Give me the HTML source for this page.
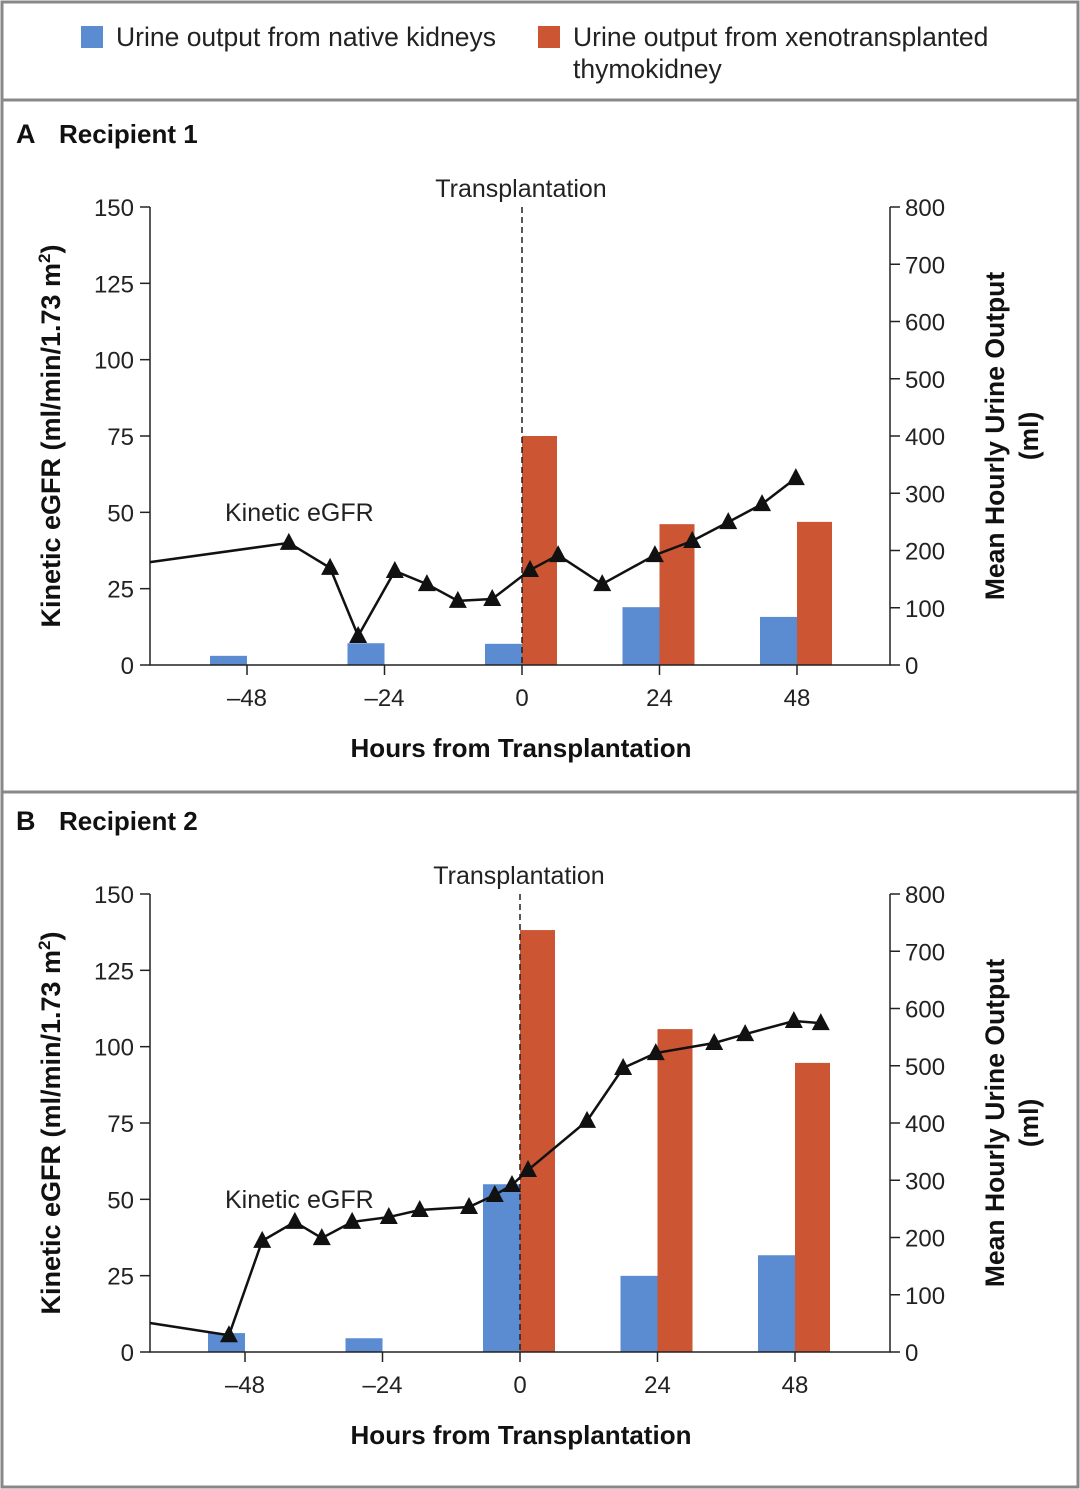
<!DOCTYPE html>
<html><head><meta charset="utf-8"><style>
body{margin:0;background:#fff}
svg{display:block;font-family:"Liberation Sans",sans-serif}
</style></head><body>
<svg id="s" width="1080" height="1489" viewBox="0 0 1080 1489">
<rect x="2" y="2" width="1076" height="1485" fill="none" stroke="#888" stroke-width="3"/>
<line x1="2" y1="100" x2="1078" y2="100" stroke="#888" stroke-width="3"/>
<line x1="2" y1="792" x2="1078" y2="792" stroke="#888" stroke-width="3"/>
<g>
<rect x="81" y="26" width="22" height="22" fill="#5b8bd0"/>
<text x="116" y="46" font-size="26.5" fill="#222">Urine output from native kidneys</text>
<rect x="538" y="26" width="22" height="22" fill="#cc5533"/>
<text x="573" y="46" font-size="26.5" fill="#222">Urine output from xenotransplanted<tspan x="573" y="78">thymokidney</tspan></text>
</g>
</svg>
<script>
const hoursA=[-65,-40.7,-33.5,-28.6,-22.2,-16.6,-11.2,-5.2,1.4,6.3,14.0,23.2,29.7,36.0,41.9,47.8];
const egfrA=[33.7,40.0,31.8,9.5,30.8,26.5,21.0,21.6,31.1,36.0,26.5,36.0,40.6,46.8,52.7,61.2];
const hoursB=[-65,-50.8,-45.0,-39.3,-34.6,-29.3,-22.9,-17.5,-8.9,-4.4,-1.4,1.4,11.7,18.0,23.7,33.9,39.3,47.8,52.5];
const egfrB=[9.5,5.5,36.4,42.6,37.3,42.6,44.2,46.5,47.5,51.4,54.7,59.6,75.7,93.0,97.9,101.2,104.1,108.4,107.7];
const barTimes=[-48,-24,0,24,48];
const nativeA=[16,38,37,101,84];
const xenoA=[null,null,400,246,250];
const nativeB=[33,24,293,133,169];
const xenoB=[null,null,737,564,505];
const leftTicks=[0,25,50,75,100,125,150];
const rightTicks=[0,100,200,300,400,500,600,700,800];
const xTicks=[-48,-24,0,24,48];
const NS="http://www.w3.org/2000/svg";
const svg=document.getElementById('s');
function el(tag,attrs,parent,txt){const e=document.createElementNS(NS,tag);for(const k in attrs)e.setAttribute(k,attrs[k]);if(txt!==undefined)e.textContent=txt;(parent||svg).appendChild(e);return e;}
function panel(off,letter,title,hours,egfr,nat,xeno,key,x0){
 const g=el('g',{});
 
 
 const x=h=>x0+h*5.729;
 const yL=v=>665+off-v/150*458;
 const yR=v=>665+off-v/800*458;
 const t1=el('text',{x:16,y:143+off,'font-size':27,'font-weight':'bold',fill:'#111'},g,letter);
 
 
 const t2=el('text',{x:59,y:143+off,'font-size':26,'font-weight':'bold',fill:'#111'},g,title);
 
 
 barTimes.forEach((t,i)=>{
  const hb=el('rect',{x:x(t)-37,y:yR(nat[i]),width:37,height:665+off-yR(nat[i]),fill:'#5b8bd0'},g);
  
  
  if(xeno[i]!=null){
   const rb=el('rect',{x:x(t),y:yR(xeno[i]),width:35,height:665+off-yR(xeno[i]),fill:'#cc5533'},g);
   
   
  }
 });
 const ax=el('path',{d:`M150 ${207+off}V${665+off}H890V${207+off}`,fill:'none',stroke:'#222','stroke-width':1.5},g);
 
 
 leftTicks.forEach(v=>{
  el('line',{x1:140,x2:150,y1:yL(v),y2:yL(v),stroke:'#222','stroke-width':1.5},g);
  const tl=el('text',{x:134,y:yL(v)+9,'font-size':24,'text-anchor':'end',fill:'#222'},g,v);
  
  
 });
 rightTicks.forEach(v=>{
  el('line',{x1:890,x2:900,y1:yR(v),y2:yR(v),stroke:'#222','stroke-width':1.5},g);
  const tr=el('text',{x:905,y:yR(v)+9,'font-size':24,fill:'#222'},g,v);
  
  
 });
 xTicks.forEach(v=>{
  el('line',{x1:x(v),x2:x(v),y1:665+off,y2:675+off,stroke:'#222','stroke-width':1.5},g);
  const tx=el('text',{x:x(v),y:706+off,'font-size':24,'text-anchor':'middle',fill:'#222'},g,v<0?'\u2013'+(-v):v);
  
  
 });
 const xt=el('text',{x:521,y:757+off,'font-size':26,'font-weight':'bold','text-anchor':'middle',fill:'#111'},g,'Hours from Transplantation');
 
 
 const lt=el('text',{transform:`translate(60 ${436+off}) rotate(-90)`,'font-size':27,'font-weight':'bold','text-anchor':'middle',fill:'#111'},g);
 lt.innerHTML='Kinetic eGFR (ml/min/1.73 m<tspan dy="-10" font-size="17">2</tspan><tspan dy="10">)</tspan>';
 
 
 const rt=el('text',{transform:`translate(1004 ${436+off}) rotate(-90)`,'font-size':26.5,'font-weight':'bold','text-anchor':'middle',fill:'#111'},g);
 rt.innerHTML='Mean Hourly Urine Output<tspan x="0" dy="34">(ml)</tspan>';
 
 
 const dl=el('line',{x1:x(0),x2:x(0),y1:207+off,y2:665+off,stroke:'#222','stroke-width':1.5,'stroke-dasharray':'6,4'},g);
 
 
 const tt=el('text',{x:x(0)-1,y:197+off,'font-size':25,'text-anchor':'middle',fill:'#222'},g,'Transplantation');
 
 
 const kl=el('text',{x:225,y:521+off,'font-size':25,fill:'#222'},g,'Kinetic eGFR');
 
 
 const pts=hours.map((h,i)=>Math.max(150,x(h))+','+yL(egfr[i])).join(' ');
 const pl=el('polyline',{points:pts,fill:'none',stroke:'#111','stroke-width':2.5},g);
 
 
 hours.forEach((h,i)=>{
  if(i===0)return;
  const cx=x(h),cy=yL(egfr[i]);
  const tr=el('polygon',{points:`${cx},${cy-10} ${cx-9},${cy+7} ${cx+9},${cy+7}`,fill:'#111'},g);
  
  
 });
}
panel(0,'A','Recipient 1',hoursA,egfrA,nativeA,xenoA,'a',522);
panel(687,'B','Recipient 2',hoursB,egfrB,nativeB,xenoB,'b',520);
</script>
</body></html>
